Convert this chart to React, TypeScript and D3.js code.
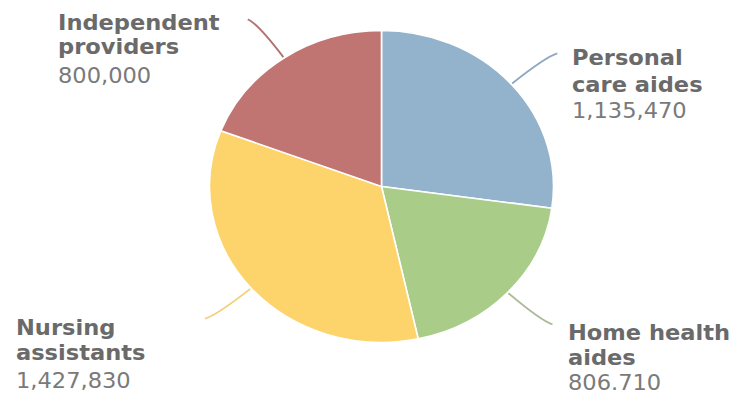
import React from "react";
import * as d3 from "d3";

const categories = ["Personal care aides", "Home health aides", "Nursing assistants", "Independent providers"];
const values = [1135470, 806710, 1427830, 800000];
const labelLines = [["Personal", "care aides"], ["Home health", "aides"], ["Nursing", "assistants"], ["Independent", "providers"]];
const colors = ["#93b3cc", "#a9cd89", "#fdd46c", "#c07572"];
const lineColors = ["#8fa8bf", "#aab996", "#f3cf78", "#b17270"];

const W = 738, H = 394;
const cx = 381.5, cy = 186.5, R = 156, RX = 172;
const sx = RX / R;

// label anchor [x, baseline1, baseline2, baseline3]
const labelPos = [
  [572, 65, 92, 118],
  [568, 340, 365, 389.5],
  [16, 335, 360, 388],
  [58, 30, 54, 83],
];

export default function App() {
  const pie = d3.pie<number>().sort(null).value((d) => d)(values);
  const arc = d3.arc<d3.PieArcDatum<number>>().innerRadius(0).outerRadius(R);
  const fmt = d3.format(",");

  const pt = (a: number, r: number) => [cx + r * sx * Math.sin(a), cy - r * Math.cos(a)];

  return (
    <svg width={W} height={H} style={{ position: "absolute", left: 0, top: 0, background: "#fff" }}>
      <g transform={`translate(${cx},${cy}) scale(${sx},1)`}>
        {pie.map((d, i) => (
          <path key={i} d={arc(d) || ""} fill={colors[i]} stroke="#fff" strokeWidth={1.6} vectorEffect="non-scaling-stroke" />
        ))}
      </g>
      {pie.map((d, i) => {
        const a = (d.startAngle + d.endAngle) / 2;
        const s = pt(a, R + 1);
        const e = pt(a, R * 1.3);
        const right = Math.sin(a) > 0;
        const end = [e[0] + (right ? 7 : -7), e[1]];
        const c = pt(a, R * 1.27);
        return (
          <path key={i} d={`M${s[0]},${s[1]} Q${c[0]},${c[1]} ${end[0]},${end[1]}`} fill="none" stroke={lineColors[i]} strokeWidth={1.8} />
        );
      })}
      {categories.map((c, i) => {
        const p = labelPos[i];
        return (
          <g key={c} fontFamily="DejaVu Sans, Verdana, sans-serif" fontSize={20.5}>
            {labelLines[i].map((t, j) => (
              <text key={j} transform={`translate(${p[0]},${p[1 + j]}) scale(1.1,1)`} fontWeight="bold" fill="#6a6a6a">{t}</text>
            ))}
            <text transform={`translate(${p[0]},${p[3]}) scale(1.1,1)`} fill="#7a7a7a">{i === 1 ? fmt(values[i]).replace(",", ".") : fmt(values[i])}</text>
          </g>
        );
      })}
    </svg>
  );
}
